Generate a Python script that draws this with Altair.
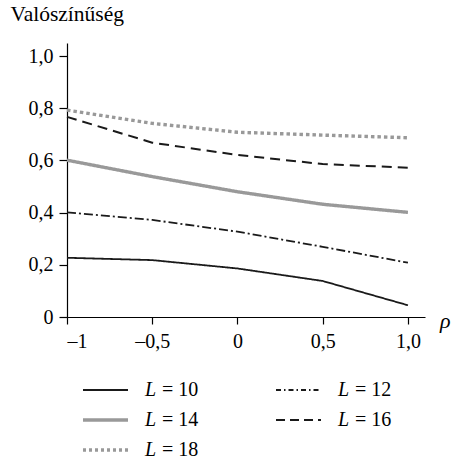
import altair as alt
import pandas as pd

rho = [-1, -0.5, 0, 0.5, 1.0]
series_names = ["L = 10", "L = 12", "L = 14", "L = 16", "L = 18"]
L10 = [0.227, 0.218, 0.186, 0.138, 0.045]
L12 = [0.401, 0.372, 0.327, 0.269, 0.208]
L14 = [0.601, 0.538, 0.480, 0.432, 0.401]
L16 = [0.767, 0.668, 0.621, 0.586, 0.572]
L18 = [0.793, 0.742, 0.708, 0.697, 0.687]
values = [L10, L12, L14, L16, L18]

x_ticks = [-1, -0.5, 0, 0.5, 1.0]
x_labels = ["–1", "–0,5", "0", "0,5", "1,0"]
y_ticks = [0, 0.2, 0.4, 0.6, 0.8, 1.0]
y_labels = ["0", "0,2", "0,4", "0,6", "0,8", "1,0"]

colors = ["#1a1a1a", "#1a1a1a", "#999999", "#1a1a1a", "#999999"]
dashes = [[1, 0], [9, 3, 2, 3], [1, 0], [10, 6], [3.5, 3]]
leg_dashes = [[1, 0], [5, 3, 1.5, 3], [1, 0], [9, 5], [3, 3]]
widths = [1.8, 1.8, 3.4, 2.0, 3.4]

FONT = "Liberation Serif, Times New Roman, serif"
FS = 20

rows = []
for name, vals in zip(series_names, values):
    for r, v in zip(rho, vals):
        rows.append({"rho": r, "p": v, "series": name})
df = pd.DataFrame(rows)

W, H = 358, 274

def arr(a):
    return "[" + ",".join(repr(v) if not isinstance(v, str) else "'" + v + "'" for v in a) + "]"

x_expr = f"{arr(x_labels)}[indexof({arr(x_ticks)}, datum.value)]"
y_expr = f"{arr(y_labels)}[indexof({arr(y_ticks)}, datum.value)]"

x_enc = alt.X("rho:Q", scale=alt.Scale(domain=[-1, 1.1], nice=False, zero=False),
              axis=alt.Axis(values=x_ticks, labelExpr=x_expr, grid=False, title=None,
                            domainColor="#000", tickColor="#000", tickSize=7,
                            labelFont=FONT, labelFontSize=FS, labelColor="#000",
                            labelPadding=7, domainWidth=1.2, tickWidth=1.2))
y_enc = alt.Y("p:Q", scale=alt.Scale(domain=[0, 1.05], nice=False),
              axis=alt.Axis(values=y_ticks, labelExpr=y_expr, grid=False,
                            title="Valószínűség", titleAngle=0, titleAlign="left",
                            titleBaseline="alphabetic", titleX=-57, titleY=-23,
                            titleFont=FONT, titleFontSize=21.5, titleFontWeight="normal",
                            titleColor="#000",
                            domainColor="#000", tickColor="#000", tickSize=8,
                            labelFont=FONT, labelFontSize=FS, labelColor="#000",
                            labelPadding=6, domainWidth=1.2, tickWidth=1.2))

layers = []
for i, name in enumerate(series_names):
    layers.append(
        alt.Chart(df).transform_filter(alt.datum.series == name)
        .mark_line(strokeCap="butt", color=colors[i], strokeDash=dashes[i],
                   strokeWidth=widths[i])
        .encode(x=x_enc, y=y_enc)
    )

# legend (positions in pixels relative to plot origin)
for i, name in enumerate(series_names):
    col = i % 2
    row = i // 2
    x0 = 16 + col * 193
    y0 = 347 + row * 30
    ldf = pd.DataFrame([{"x1": x0, "x2": x0 + 45, "y": y0, "lx": x0 + 62,
                         "ex": x0 + 79, "rest": "= " + name.split("= ")[1]}])
    layers.append(
        alt.Chart(ldf).mark_rule(strokeCap="butt", color=colors[i],
                                 strokeDash=leg_dashes[i], strokeWidth=widths[i])
        .encode(x=alt.X("x1:Q", scale=None), x2="x2:Q", y=alt.Y("y:Q", scale=None))
    )
    layers.append(
        alt.Chart(ldf).mark_text(font=FONT, fontSize=FS, fontStyle="italic",
                                 align="left", baseline="middle", color="#000")
        .encode(x=alt.X("lx:Q", scale=None), y=alt.Y("y:Q", scale=None), text=alt.value("L"))
    )
    layers.append(
        alt.Chart(ldf).mark_text(font=FONT, fontSize=FS, align="left",
                                 baseline="middle", color="#000")
        .encode(x=alt.X("ex:Q", scale=None), y=alt.Y("y:Q", scale=None), text="rest:N")
    )

rho_df = pd.DataFrame({"t": ["ρ"], "px": [W + 15], "py": [H + 4]})
layers.append(
    alt.Chart(rho_df).mark_text(font=FONT, fontSize=22, fontStyle="italic",
                                align="left", baseline="middle", color="#000")
    .encode(x=alt.X("px:Q", scale=None), y=alt.Y("py:Q", scale=None), text="t:N")
)

chart = alt.layer(*layers).properties(
    width=W, height=H,
    autosize=alt.AutoSizeParams(type="none"),
    padding={"left": 67, "top": 43, "right": 26, "bottom": 142},
    background="white",
).configure_view(stroke=None)

chart.save("out.html", embed_options={"renderer": "svg", "actions": False})
